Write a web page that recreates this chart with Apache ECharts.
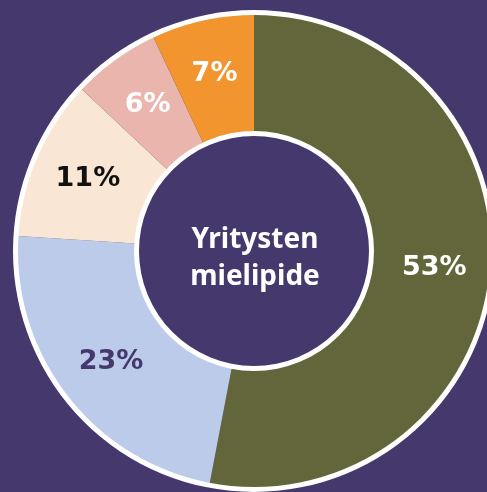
<!DOCTYPE html>
<html style="height: 100%">
    <head>
        <meta charset="utf-8">
    </head>
    <body style="height: 100%; margin: 0; background: #44386c">
        <div id="container" style="height: 492px; width: 487px;"></div>
        <script type="text/javascript" src="https://cdn.jsdelivr.net/npm/echarts@6/dist/echarts.min.js"></script>
        <script type="text/javascript">
var dom = document.getElementById("container");
var myChart = echarts.init(dom);

// slices, clockwise from 12 o'clock
const names = ['A', 'B', 'C', 'D', 'E'];
const values = [53, 23, 11, 6, 7];
const colors = ['#63663a', '#bccbe9', '#fae6d5', '#eab5ad', '#f2952f'];
const labelColors = ['#ffffff', '#44386c', '#111111', '#ffffff', '#ffffff'];
const centerText = 'Yritysten\nmielipide';

const CX = 254, CY = 251;

var option = {
    backgroundColor: '#44386c',
    animation: false,
    graphic: {
        elements: [
            {
                type: 'text',
                x: CX + 1,
                y: CY + 8,
                style: {
                    text: centerText,
                    fill: '#ffffff',
                    font: 'bold 28px "Noto Sans"',
                    lineHeight: 37,
                    align: 'center',
                    verticalAlign: 'middle'
                },
                z: 100
            }
        ]
    },
    series: [
        {
            type: 'pie',
            center: [CX, CY],
            radius: [119, 237],
            startAngle: 90,
            clockwise: true,
            silent: true,
            itemStyle: { borderWidth: 0 },
            label: {
                show: true,
                position: 'inside',
                fontFamily: 'DejaVu Sans',
                fontWeight: 'bold',
                fontSize: 27,
                formatter: function (p) {
                    return p.value + '%';
                }
            },
            labelLine: { show: false },
            data: values.map(function (v, i) {
                return {
                    name: names[i],
                    value: v,
                    itemStyle: { color: colors[i] },
                    label: { color: labelColors[i] }
                };
            })
        },
        {
            // outer white ring
            type: 'pie',
            center: [CX, CY],
            radius: [236, 241],
            silent: true,
            label: { show: false },
            itemStyle: { color: '#ffffff' },
            data: [1]
        },
        {
            // inner white ring
            type: 'pie',
            center: [CX, CY],
            radius: [115, 120],
            silent: true,
            label: { show: false },
            itemStyle: { color: '#ffffff' },
            data: [1]
        }
    ]
};

myChart.setOption(option);
        </script>
    </body>
</html>
